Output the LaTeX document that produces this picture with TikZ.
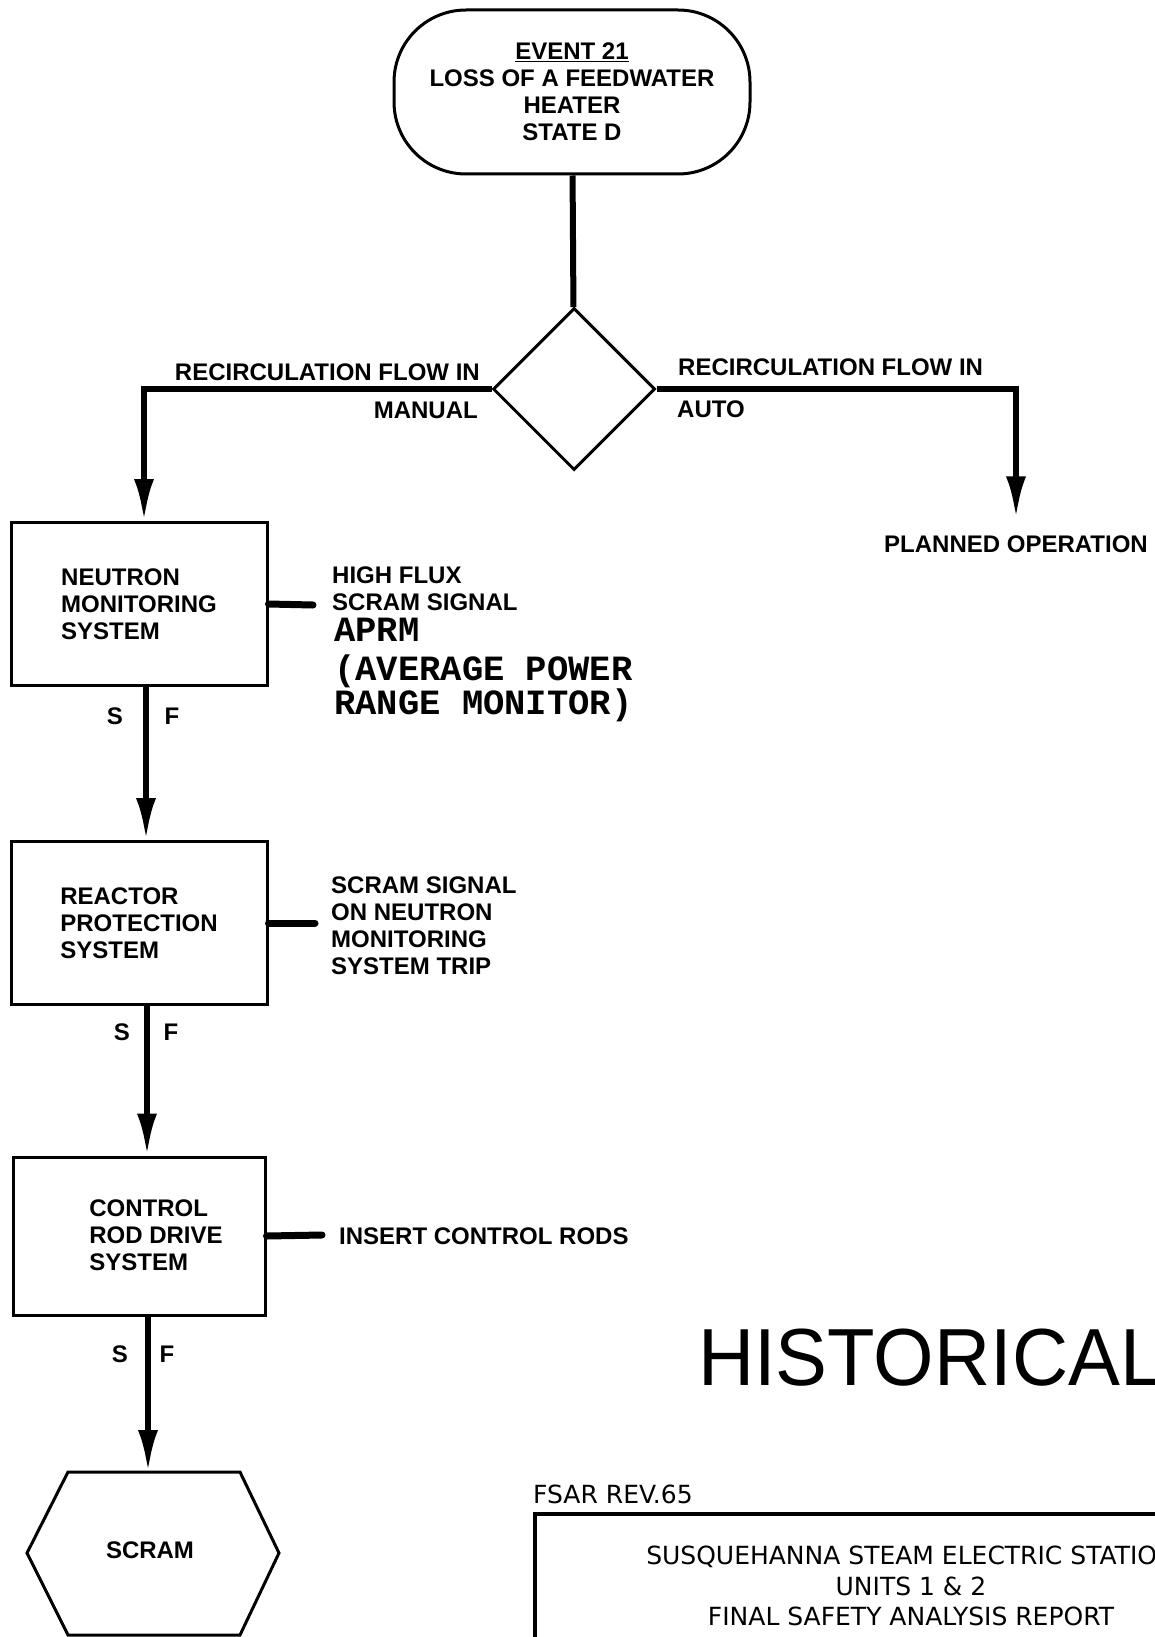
\documentclass[tikz,border=0pt]{standalone}
\usepackage{fontspec}
\setmainfont{Liberation Sans}
\newfontfamily\typewriter{Liberation Mono}
\newfontfamily\formfont{DejaVu Sans}
\usetikzlibrary{arrows.meta,shapes.geometric}

\begin{document}
\begin{tikzpicture}[x=1pt,y=-1pt,
        lbl/.style={font=\bfseries\fontsize{24}{27}\selectfont,align=left,inner sep=0pt},
        sysbox/.style={draw,line width=3pt,minimum width=256pt,minimum height=163pt,inner sep=0pt},
        flow/.style={line width=6pt,-{Latex[length=42pt,width=20pt]}},
        stub/.style={line width=7pt,line cap=round}]

    \useasboundingbox (0,0) rectangle (1155,1637);
    \clip (0,0) rectangle (1155,1637);

    \node[draw,line width=3pt,rounded corners=72pt,minimum width=356pt,minimum height=164pt,
        lbl,align=center] (event) at (572,92)
        {\underline{EVENT 21}\\LOSS OF A FEEDWATER\\HEATER\\STATE D};
    \node[diamond,draw,line width=3pt,minimum width=162pt,minimum height=162pt,inner sep=0pt] (dec) at (574,389) {};

    \node[lbl,anchor=east] (manflow) at (480,372) {RECIRCULATION FLOW IN};
    \node[lbl,anchor=east] (manual) at (478,410) {MANUAL};
    \node[lbl,anchor=west] (autoflow) at (678,367) {RECIRCULATION FLOW IN};
    \node[lbl,anchor=west] (auto) at (677,409) {AUTO};
    \node[lbl] (plan) at (1016,544) {PLANNED OPERATION};

    \node[sysbox,lbl] (nms) at (139,604) {NEUTRON\\MONITORING\\SYSTEM};
    \node[sysbox,lbl] (rps) at (139,923) {REACTOR\\PROTECTION\\SYSTEM};
    \node[sysbox,minimum width=252pt,minimum height=158pt] (crd) at (139,1236) {};
    \node[lbl] (crdtext) at (156,1235) {CONTROL\\ROD DRIVE\\SYSTEM};

    \coordinate (nmsend) at (313,605);
    \coordinate (rpsend) at (315,923);
    \coordinate (crdend) at (322,1235);
    \coordinate (hextop) at (148,1472);

    \node[lbl,anchor=west] (nmsnote) at (332,589) {HIGH FLUX\\SCRAM SIGNAL};
    \node[lbl,anchor=west,font=\typewriter\bfseries\fontsize{35.5}{33}\selectfont] (aprm) at (334,670)
        {APRM\\[6pt](AVERAGE POWER\\RANGE MONITOR)};
    \node[lbl,anchor=west] (rpsnote) at (331,926) {SCRAM SIGNAL\\ON NEUTRON\\MONITORING\\SYSTEM TRIP};
    \node[lbl,anchor=west] (crdnote) at (339,1236) {INSERT CONTROL RODS};

    \node[lbl] (s1) at (115,716) {S};
    \node[lbl] (f1) at (172,716) {F};
    \node[lbl] (s2) at (122,1032) {S};
    \node[lbl] (f2) at (171,1032) {F};
    \node[lbl] (s3) at (120,1354) {S};
    \node[lbl] (f3) at (167,1354) {F};

    \node[lbl] (scram) at (150,1550) {SCRAM};
    \draw[line width=3pt] (68,1472) -- (240,1472) -- (279,1553) -- (240,1635) -- (68,1635) -- (27,1553) -- cycle;

    \draw[line width=6pt] (event) -- (dec);
    \draw[flow] (dec.west) -| ([xshift=5pt]nms.north);
    \draw[flow,shorten >=17pt] (dec.east) -| (plan.north);
    \draw[flow] ([xshift=7pt]nms.south) -- ([xshift=7pt]rps.north);
    \draw[flow] ([xshift=8pt]rps.south) -- ([xshift=8pt]crd.north);
    \draw[flow] ([xshift=9pt]crd.south) -- (hextop);

    \draw[stub] (nms.east) -- (nmsend);
    \draw[stub] (rps.east) -- (rpsend);
    \draw[stub] (crd.east) -- (crdend);

    \node[anchor=west,inner sep=0pt,font=\fontsize{81}{90}\selectfont] (hist) at (698,1358)
        {\scalebox{0.96}[1]{HISTORICAL}};

    \node[anchor=west,inner sep=0pt,font=\formfont\fontsize{25}{30}\selectfont] (rev) at (533,1494) {FSAR REV.65};
    \draw[line width=3.5pt] (535,1680) -- (535,1514) -- (1200,1514);
    \node[align=center,inner sep=0pt,font=\formfont\fontsize{25}{30.5}\selectfont] (title) at (911,1586)
        {SUSQUEHANNA STEAM ELECTRIC STATION\\UNITS 1 \& 2\\FINAL SAFETY ANALYSIS REPORT};
\end{tikzpicture}
\end{document}
